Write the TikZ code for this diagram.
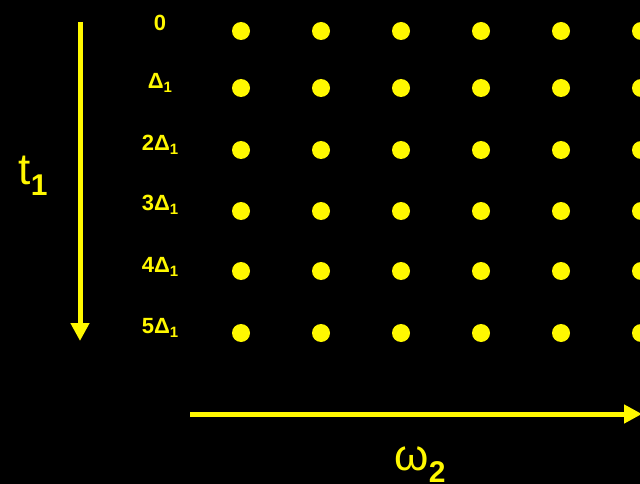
\documentclass[tikz,border=0pt]{standalone}
\usepackage{fontspec}
\setmainfont{Liberation Sans}
\usepackage{xcolor}
\usetikzlibrary{arrows.meta}
\definecolor{dotyellow}{RGB}{255,248,0}

\tikzset{
  gridpt/.style={circle, fill=dotyellow, inner sep=0pt, minimum size=18pt},
  rowlabel/.style={anchor=base, text=dotyellow, font=\fontsize{22}{24}\selectfont\bfseries},
  axislabel/.style={anchor=base, text=dotyellow, font=\fontsize{44}{46}\selectfont},
  axisarrow/.style={dotyellow, line width=5pt, -{Triangle[length=18pt,width=18pt]}}
}

\newcommand{\subone}[1]{\raisebox{-4pt}{\fontsize{15}{17}\selectfont #1}}

\begin{document}
\begin{tikzpicture}[x=1pt, y=-1pt]
\fill[black] (0,0) rectangle (640,484);
\useasboundingbox (0,0) rectangle (640,484);

% --- Dot grid ---
\foreach \r/\y in {0/31, 1/88, 2/150, 3/211, 4/271, 5/333} {
  \foreach \c in {0,...,5} {
    \node[gridpt] (p\r\c) at ({241+80*\c},\y) {};
  }
}

% --- Row labels ---
\node[rowlabel] (l0) at (160,31) {0};
\node[rowlabel] (l1) at (160,89) {Δ\subone{1}};
\node[rowlabel] (l2) at (160,151) {2Δ\subone{1}};
\node[rowlabel] (l3) at (160,211) {3Δ\subone{1}};
\node[rowlabel] (l4) at (160,272) {4Δ\subone{1}};
\node[rowlabel] (l5) at (160,333) {5Δ\subone{1}};

% --- Axes ---
\coordinate (tstart) at (80,22);
\coordinate (tend) at (80,341);
\draw[axisarrow] (tstart) -- (tend);
\node[axislabel] (tlab) at (33,185) {t\raisebox{-10pt}{\fontsize{30}{32}\selectfont\bfseries 1}};

\coordinate (wstart) at (190,414);
\coordinate (wend) at (642,414);
\draw[axisarrow] (wstart) -- (wend);
\node[axislabel] (wlab) at (420,470) {ω\raisebox{-12pt}{\fontsize{30}{32}\selectfont\bfseries 2}};

\end{tikzpicture}
\end{document}
